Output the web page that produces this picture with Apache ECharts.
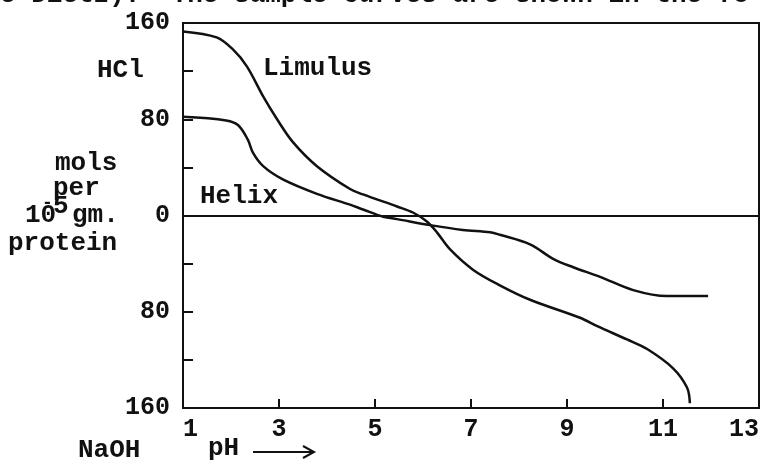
<!DOCTYPE html>
<html>
<head>
<meta charset="utf-8">
<script src="https://cdn.jsdelivr.net/npm/echarts@6/dist/echarts.min.js"></script>
<style>
html, body { margin: 0; padding: 0; background: #fff; }
#main { width: 763px; height: 462px; }
</style>
</head>
<body>
<div id="main"></div>
<script>
// pH tick labels on the x axis
var phTicks = [1, 3, 5, 7, 9, 11, 13];

// Limulus curve (pH, mols acid/base bound)
var limulusPH  = [1.0, 1.7, 2.04, 2.33, 2.67, 2.96, 3.29, 3.79, 4.48, 4.75, 5.46, 5.79, 6.08, 6.29, 6.56, 7.04, 7.6, 8.23, 9.27, 9.63, 10.25, 10.67, 11.21, 11.5, 11.56];
var limulusVal = [153, 148, 138, 124, 99, 80, 61, 41, 22, 17.5, 7.5, 2.5, -5, -14, -28, -45, -58, -70, -85, -92, -103, -111, -127, -143, -156];

// Helix curve
var helixPH  = [1.0, 1.9, 2.15, 2.35, 2.46, 2.67, 3.08, 3.79, 4.48, 4.75, 5.17, 5.46, 6.15, 6.83, 7.4, 7.6, 8.23, 8.71, 9.13, 9.69, 10.38, 11.08, 11.94];
var helixVal = [82, 79, 75, 63, 52, 41, 30, 18, 9, 5, -1, -3, -8, -12, -14, -16, -24, -36, -43, -51, -62, -67, -67];

var ink = '#111';
var typeFont = '"Liberation Mono", "DejaVu Sans Mono", monospace';

function pairs(xs, ys) {
	var out = [];
	for (var i = 0; i < xs.length; i++) out.push([xs[i], ys[i]]);
	return out;
}

function label(text, x, y, size) {
	return {
		type: 'text', x: x, y: y, silent: true,
		style: {
			text: text, fill: ink,
			font: 'bold ' + (size || 26) + 'px ' + typeFont,
			verticalAlign: 'middle'
		}
	};
}

var myChart = echarts.init(document.getElementById('main'), null, { renderer: 'canvas' });

var option = {
	backgroundColor: '#fff',
	animation: false,
	grid: {
		left: 183, right: 4, top: 23, bottom: 54,
		show: true, borderColor: ink, borderWidth: 2,
		containLabel: false, outerBoundsMode: 'none'
	},
	xAxis: {
		type: 'value', min: 1, max: 13, interval: 2,
		axisLine: { onZero: false, lineStyle: { color: ink, width: 2 } },
		axisTick: { inside: true, length: 9, lineStyle: { color: ink, width: 2 } },
		splitLine: { show: false },
		axisLabel: {
			color: ink, fontFamily: typeFont, fontWeight: 'bold', fontSize: 25, margin: 9,
			alignMinLabel: 'left', alignMaxLabel: 'right',
			formatter: function (v) { return phTicks.indexOf(v) >= 0 ? String(v) : ''; }
		}
	},
	yAxis: {
		type: 'value', min: -160, max: 160, interval: 40,
		axisLine: { onZero: false, lineStyle: { color: ink, width: 2 } },
		axisTick: { inside: true, length: 10, lineStyle: { color: ink, width: 2 } },
		splitLine: { show: false },
		axisLabel: {
			color: ink, fontFamily: typeFont, fontWeight: 'bold', fontSize: 25, margin: 13,
			formatter: function (v) { return v % 80 === 0 ? String(Math.abs(v)) : ''; }
		}
	},
	series: [
		{
			name: 'Limulus', type: 'line', smooth: 0.35, symbol: 'none',
			data: pairs(limulusPH, limulusVal),
			lineStyle: { color: ink, width: 2.5 }
		},
		{
			name: 'Helix', type: 'line', smooth: 0.35, symbol: 'none',
			data: pairs(helixPH, helixVal),
			lineStyle: { color: ink, width: 2.5 },
			markLine: {
				silent: true, symbol: 'none', label: { show: false },
				lineStyle: { color: ink, width: 2, type: 'solid' },
				data: [{ yAxis: 0 }]
			}
		}
	],
	graphic: [
		label('e Dietz).  The sample curves are shown in the fo', 0, -5),
		label('HCl', 97, 70),
		label('Limulus', 263, 68),
		label('Helix', 200, 196),
		label('mols', 55, 163),
		label('per', 53, 188),
		label('10', 25, 215),
		label('-', 42, 203, 18),
		label('5', 53, 206),
		label('gm.', 72, 215),
		label('protein', 8, 243),
		label('NaOH', 78, 450),
		label('pH', 208, 448),
		{
			type: 'polyline', silent: true,
			shape: { points: [[253, 452], [313, 452]] },
			style: { stroke: ink, lineWidth: 2, fill: null }
		},
		{
			type: 'polyline', silent: true,
			shape: { points: [[303, 446], [314, 452], [303, 458]] },
			style: { stroke: ink, lineWidth: 2, fill: null }
		}
	]
};

myChart.setOption(option);
</script>
</body>
</html>
